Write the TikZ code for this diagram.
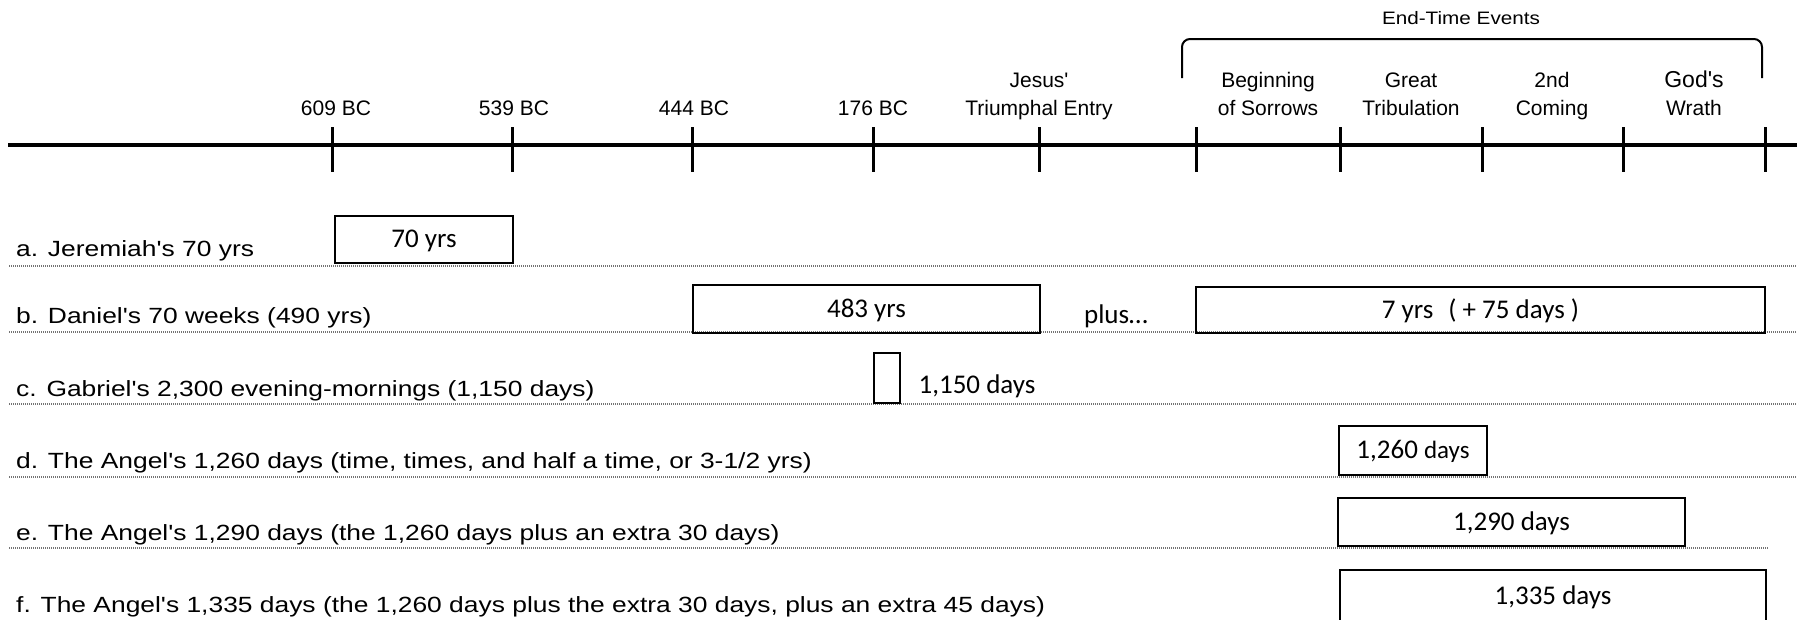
\documentclass[tikz,border=0pt]{standalone}
\usepackage{fontspec}
\newfontfamily\labfont{Liberation Sans}[FakeStretch=1.2,Ligatures=TeXOff]
\newfontfamily\tlfont{Liberation Sans}[Ligatures=TeXOff]
\newfontfamily\endfont{Liberation Sans}[FakeStretch=1.15,Ligatures=TeXOff]
\newfontfamily\boxfont{Carlito}[Ligatures=TeXOff]
\begin{document}
\begin{tikzpicture}[x=1pt,y=-1pt,
  tlline/.style={line width=3.2pt},
  tickmark/.style={line width=3pt},
  rowlab/.style={anchor=base west, inner sep=0pt, font=\labfont\fontsize{22}{26}\selectfont},
  tllab/.style={align=center, inner sep=0pt, anchor=base, font=\tlfont\fontsize{21}{28}\selectfont},
  spanbox/.style={draw, line width=2.5pt, inner sep=0pt, outer sep=0pt,
    font=\boxfont\fontsize{27}{30}\selectfont, text height=20pt, text depth=4pt},
  boxtext/.style={inner sep=0pt, anchor=base, font=\boxfont\fontsize{27}{30}\selectfont},
  dots/.style={line width=2pt, dash pattern=on 1pt off 1pt, black!55},
  bracket/.style={line width=2pt, rounded corners=8pt}]
\useasboundingbox (0,0) rectangle (1797,619);

% timeline
\coordinate (tlL) at (8,145);
\coordinate (tlR) at (1797,145);
\draw[tlline] (tlL) -- (tlR);
\foreach \x in {332,512,692,873,1039,1196,1340,1482,1623,1765}
  \draw[tickmark] (\x,127) -- (\x,172);

% timeline labels (base anchor = baseline of last line)
\node[tllab] (l609) at (336,115) {609 BC};
\node[tllab] (l539) at (514,115) {539 BC};
\node[tllab] (l444) at (694,115) {444 BC};
\node[tllab] (l176) at (873,115) {176 BC};
\node[tllab] (ljesus) at (1039,115) {Jesus'\\Triumphal Entry};
\node[tllab] (lbeg) at (1268,115) {Beginning\\of Sorrows};
\node[tllab] (lgreat) at (1411,115) {Great\\Tribulation};
\node[tllab] (lsecond) at (1552,115) {2nd\\Coming};
\node[tllab] (lgod) at (1694,115) {{\fontsize{23}{28}\selectfont God's}\\Wrath};

% bracket
\coordinate (brA) at (1182,78);
\coordinate (brB) at (1762,78);
\draw[bracket] (brA) -- (1182,39) -- (1762,39) -- (brB);
\node[inner sep=0pt, anchor=base, font=\endfont\fontsize{18}{22}\selectfont] (lend) at (1461,24) {End-Time Events};

% dotted row lines
\coordinate (da1) at (9,266);  \coordinate (da2) at (1797,266);
\coordinate (db1) at (9,332);  \coordinate (db2) at (1797,332);
\coordinate (dc1) at (9,404);  \coordinate (dc2) at (1797,404);
\coordinate (dd1) at (9,477);  \coordinate (dd2) at (1797,477);
\coordinate (de1) at (9,548);  \coordinate (de2) at (1768,548);
\draw[dots] (da1) -- (da2);
\draw[dots] (db1) -- (db2);
\draw[dots] (dc1) -- (dc2);
\draw[dots] (dd1) -- (dd2);
\draw[dots] (de1) -- (de2);

% row labels
\node[rowlab] (ra) at (16,256) {a. Jeremiah's 70 yrs};
\node[rowlab] (rb) at (16,323) {b. Daniel's 70 weeks (490 yrs)};
\node[rowlab] (rc) at (16,396) {c. Gabriel's 2,300 evening-mornings (1,150 days)};
\node[rowlab] (rd) at (16,468) {d. The Angel's 1,260 days (time, times, and half a time, or 3-1/2 yrs)};
\node[rowlab] (re) at (16,540) {e. The Angel's 1,290 days (the 1,260 days plus an extra 30 days)};
\node[rowlab] (rf) at (16,612) {f. The Angel's 1,335 days (the 1,260 days plus the extra 30 days, plus an extra 45 days)};

% span boxes
\node[spanbox, minimum width=178pt, minimum height=47pt] (b70) at (424,239.5) {70 yrs};
\node[spanbox, minimum width=347pt, minimum height=48pt] (b483) at (866.5,309) {483 yrs};
\node[boxtext] (plus) at (1116,323) {plus…};
\node[spanbox, minimum width=569pt, minimum height=46pt] (b7) at (1480.5,310) {7 yrs\hspace{15pt}( + 75 days )};
\node[spanbox, minimum width=26pt, minimum height=50pt] (b1150) at (887,378) {};
\node[boxtext] (t1150) at (977,393) {1,150 days};
\node[spanbox, minimum width=148pt, minimum height=49pt] (b1260) at (1413,450.5) {1,260 {\fontsize{25}{30}\selectfont days}};
\node[spanbox, minimum width=347pt, minimum height=48pt] (b1290) at (1511.5,522) {1,290 days};
\node[spanbox, minimum width=426pt, minimum height=52pt] (b1335) at (1553,596) {1,335 days};
\end{tikzpicture}
\end{document}
